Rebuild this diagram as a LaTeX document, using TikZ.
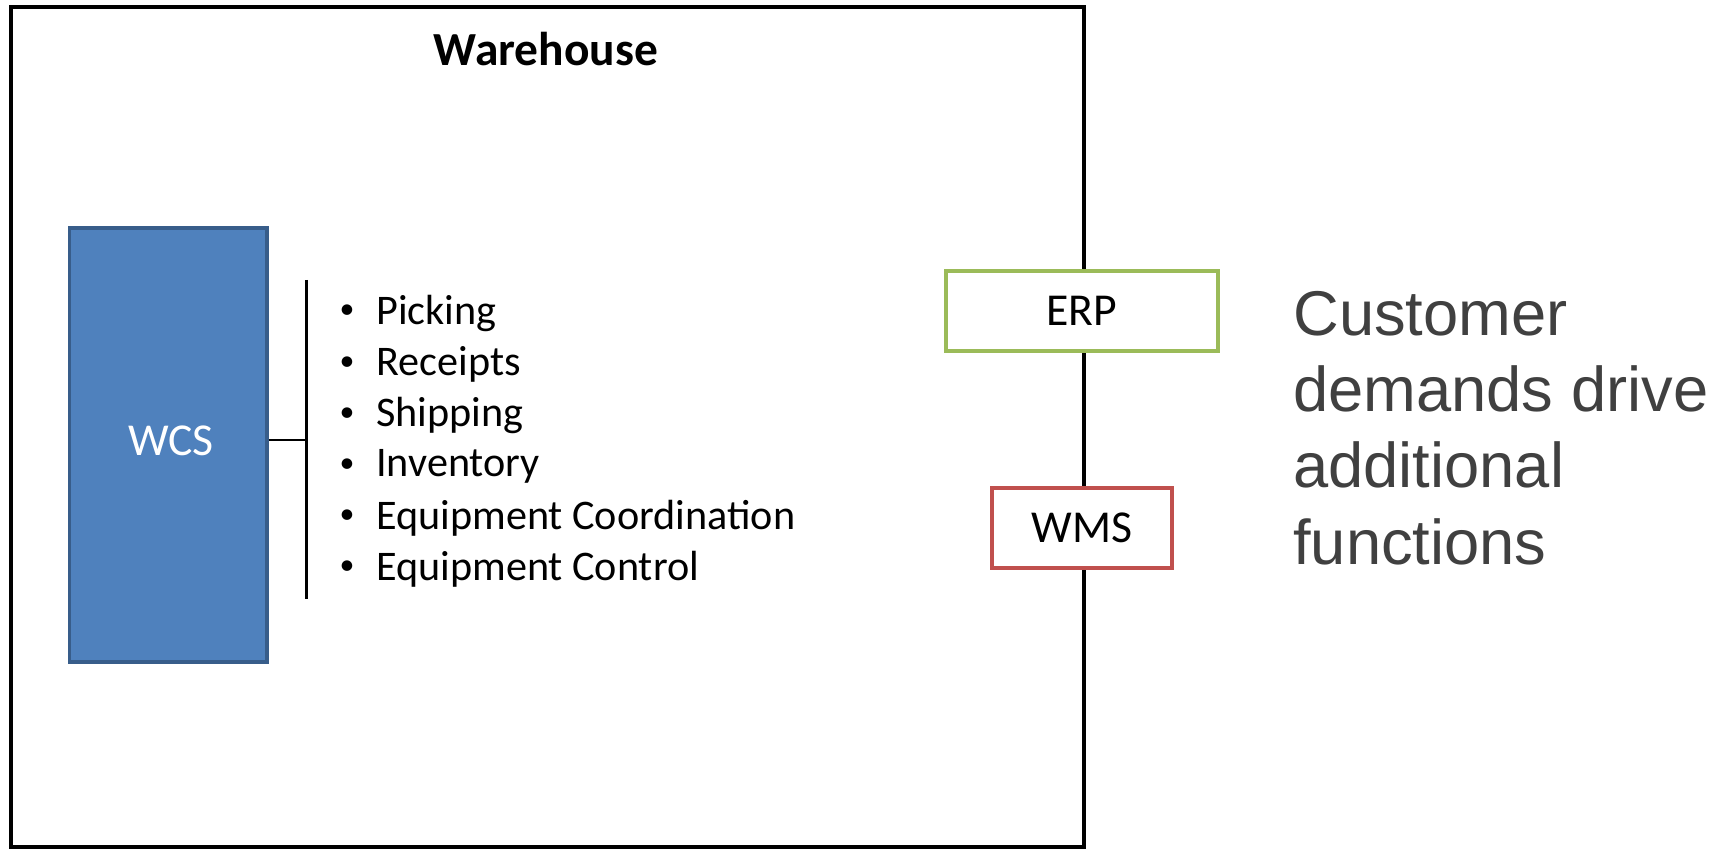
\documentclass[tikz,border=0pt]{standalone}
\usepackage{fontspec}
\setmainfont{Carlito}
\newfontfamily\arialfont{Liberation Sans}
\usepackage{tikz}
\usepackage{xcolor}
\usetikzlibrary{calc}
\usetikzlibrary{positioning}

\definecolor{wcsblue}{HTML}{4F81BD}
\definecolor{wcsedge}{HTML}{385D8A}
\definecolor{erpgreen}{HTML}{9BBB59}
\definecolor{wmsred}{HTML}{C0504D}
\definecolor{notegray}{HTML}{404040}

\tikzset{
  sysbox/.style={draw, fill=white, line width=2.2pt, minimum height=1.6cm, inner sep=0pt,
    font=\fontsize{26}{31}\selectfont},
  itemtext/.style={anchor=west, inner sep=0pt, font=\fontsize{24}{29}\selectfont}
}

\begin{document}
\begin{tikzpicture}
\useasboundingbox (0,0) rectangle (34.58,16.98);

% warehouse frame
\draw[line width=2.3pt] (0.22,0.04) rectangle (21.68,16.84);
\node[inner sep=0pt, font=\fontsize{27}{32}\selectfont\bfseries] (title) at (10.92,16.0) {Warehouse};

% control system
\node[draw=wcsedge, fill=wcsblue, line width=2pt, minimum width=3.95cm, minimum height=8.68cm,
  text=white, font=\fontsize{26}{31}\selectfont] (wcs) at (3.365,8.08) {};
\node[text=white, inner sep=0pt, font=\fontsize{26}{31}\selectfont] (wcslabel) at (3.42,8.16) {WCS};

\coordinate (brtop) at (6.13,11.38);
\coordinate (brbot) at (6.13,5.0);
\draw[line width=1.6pt] (brtop) -- (brbot);
\draw[line width=1.6pt] ($(wcs.east)+(0,0.1)$) -- ($(wcs.east -| brtop)+(0,0.1)$);

\foreach \name [count=\i from 0] in {Picking,Receipts,Shipping,Inventory,Equipment Coordination,Equipment Control}{
  \node[inner sep=0pt, font=\fontsize{17}{20}\selectfont] (dot\i) at (6.94,10.74-1.024*\i) {\textbullet};
  \node[itemtext] (item\i) at (7.52,10.72-1.024*\i) {\name};
}

% outside systems
\node[sysbox, draw=erpgreen, minimum width=5.44cm] (erp) at (21.64,10.76) {ERP};
\node[sysbox, draw=wmsred, minimum width=3.6cm] (wms) at (21.64,6.42) {WMS};

\node[anchor=west, align=left, inner sep=0pt, text=notegray,
  font=\arialfont\fontsize{36}{43.5}\selectfont] (note) at (25.86,8.42)
  {Customer\\demands drive\\additional\\functions};

\end{tikzpicture}
\end{document}
